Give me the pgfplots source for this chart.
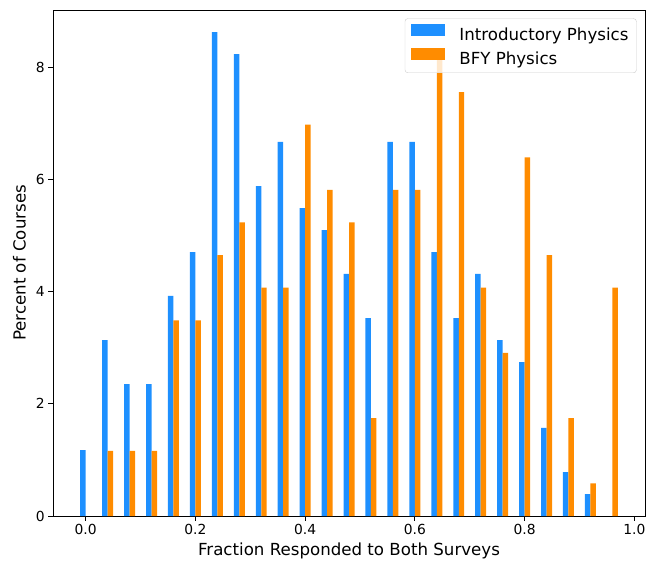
\documentclass[border=0pt]{standalone}
\usepackage{pgfplots}
\pgfplotsset{compat=1.18}
\usepackage{fontspec}
\setmainfont{DejaVu Sans}
\definecolor{cblue}{HTML}{1E90FF}
\definecolor{corange}{HTML}{FF8C00}
\begin{document}
\begin{tikzpicture}
\begin{axis}[
  scale only axis,
  width=592bp, height=506bp,
  xmin=-0.0596, xmax=1.0195,
  ymin=0, ymax=9.02,
  axis line style={line width=0.8bp},
  major tick style={line width=0.8bp, black},
  tick align=outside,
  major tick length=4.9bp,
  xtick pos=bottom, ytick pos=left,
  xtick={0,0.2,0.4,0.6,0.8,1.0},
  ytick={0,2,4,6,8},
  xticklabel style={/pgf/number format/.cd, fixed, fixed zerofill, precision=1},
  /pgf/number format/assume math mode=true,
  ticklabel style={font=\fontsize{13.9}{16}\selectfont},
  xlabel={Fraction Responded to Both Surveys},
  xlabel style={yshift=-1.5bp},
  ylabel={Percent of Courses},
  ylabel style={yshift=3bp},
  label style={font=\fontsize{16.7}{20}\selectfont},
  legend cell align=left,
  legend image code/.code={\fill[#1,draw=none,fill opacity=1,sharp corners] (0bp,-0.9bp) rectangle (33.4bp,10.8bp);},
  legend style={at={(1,1)}, anchor=north east, xshift=-8.35bp, yshift=-8.35bp,
    draw=black!20, rounded corners=3bp, fill=white, fill opacity=0.8, text opacity=1,
    font=\fontsize{16.7}{20}\selectfont, row sep=4.5bp, inner xsep=6.5bp, inner ysep=5.5bp,
    nodes={inner sep=1.5bp},
    /tikz/every odd column/.append style={column sep=13bp}},
]
\addplot[ybar, bar width=0.01, bar shift=0pt, fill=cblue, draw=none] coordinates {
(-0.005,1.176) (0.035,3.137) (0.075,2.353) (0.115,2.353) (0.155,3.922) (0.195,4.706)
(0.235,8.627) (0.275,8.235) (0.315,5.882) (0.355,6.667) (0.395,5.490) (0.435,5.098)
(0.475,4.314) (0.515,3.529) (0.555,6.667) (0.595,6.667) (0.635,4.706) (0.675,3.529)
(0.715,4.314) (0.755,3.137) (0.795,2.745) (0.835,1.569) (0.875,0.784) (0.915,0.392)
};
\addlegendentry{Introductory Physics}
\addplot[ybar, bar width=0.01, bar shift=0pt, fill=corange, draw=none] coordinates {
(0.045,1.163) (0.085,1.163) (0.125,1.163) (0.165,3.488) (0.205,3.488)
(0.245,4.651) (0.285,5.233) (0.325,4.070) (0.365,4.070) (0.405,6.977) (0.445,5.814)
(0.485,5.233) (0.525,1.744) (0.565,5.814) (0.605,5.814) (0.645,8.140) (0.685,7.558)
(0.725,4.070) (0.765,2.907) (0.805,6.395) (0.845,4.651) (0.885,1.744) (0.925,0.581)
(0.965,4.070)
};
\addlegendentry{BFY Physics}
\end{axis}
\path ([shift={(-53bp,-47bp)}]current axis.south west) rectangle ([shift={(10bp,10bp)}]current axis.north east);
\end{tikzpicture}
\end{document}
